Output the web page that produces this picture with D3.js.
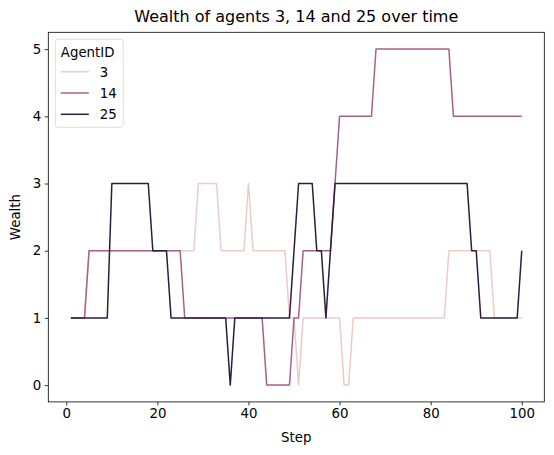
<!DOCTYPE html>
<head>
<meta charset="UTF-8">
<script src="https://d3js.org/d3.v7.min.js"></script>
<style>
  body { margin: 0; background: #fff; }
  text { font-family: "DejaVu Sans", sans-serif; fill: #000; }
</style>
</head>
<body>
<div id="my_dataviz"></div>
<script>

// wealth per step, steps 1..100
var steps = d3.range(1, 101);
var agentIds = ["3", "14", "25"];
var agentColors = ["#ebcdc6", "#a6628f", "#2d1e3e"];

var wealth3 = [
  1,1,1,1,2,2,2,2,2,2,
  2,2,2,2,2,2,2,2,2,2,
  2,2,2,2,2,2,2,2,3,3,
  3,3,3,2,2,2,2,2,2,3,
  2,2,2,2,2,2,2,2,1,1,
  0,1,1,1,1,1,1,1,1,1,
  0,0,1,1,1,1,1,1,1,1,
  1,1,1,1,1,1,1,1,1,1,
  1,1,1,2,2,2,2,2,2,2,
  2,2,2,1,1,1,1,1,1,1
];
var wealth14 = [
  1,1,1,1,2,2,2,2,2,2,
  2,2,2,2,2,2,2,2,2,2,
  2,2,2,2,2,1,1,1,1,1,
  1,1,1,1,1,1,1,1,1,1,
  1,1,1,0,0,0,0,0,0,1,
  1,2,2,2,2,2,2,2,3,4,
  4,4,4,4,4,4,4,5,5,5,
  5,5,5,5,5,5,5,5,5,5,
  5,5,5,5,4,4,4,4,4,4,
  4,4,4,4,4,4,4,4,4,4
];
var wealth25 = [
  1,1,1,1,1,1,1,1,1,3,
  3,3,3,3,3,3,3,3,2,2,
  2,2,1,1,1,1,1,1,1,1,
  1,1,1,1,1,0,1,1,1,1,
  1,1,1,1,1,1,1,1,1,2,
  3,3,3,3,2,2,1,2,3,3,
  3,3,3,3,3,3,3,3,3,3,
  3,3,3,3,3,3,3,3,3,3,
  3,3,3,3,3,3,3,3,2,2,
  1,1,1,1,1,1,1,1,1,2
];
var xTicks = [0, 20, 40, 60, 80, 100];
var yTicks = [0, 1, 2, 3, 4, 5];

var series = [wealth3, wealth14, wealth25];

// figure / axes box (matplotlib-like)
var W = 554, H = 455;
var margin = {top: 32.3, right: 9.7, bottom: 53.1, left: 48.3};
var width = W - margin.left - margin.right,
    height = H - margin.top - margin.bottom;

var svg = d3.select("#my_dataviz")
  .append("svg")
    .attr("width", W)
    .attr("height", H)
  .append("g")
    .attr("transform", "translate(" + margin.left + "," + margin.top + ")");

// 5% padding like matplotlib autoscale
var x = d3.scaleLinear()
  .domain([1 - 0.05 * 99, 100 + 0.05 * 99])
  .range([0, width]);
var y = d3.scaleLinear()
  .domain([-0.25, 5.25])
  .range([height, 0]);

// axes
var xAxis = svg.append("g")
  .attr("transform", "translate(0," + height + ")")
  .call(d3.axisBottom(x).tickValues(xTicks).tickFormat(d3.format("d")).tickSize(3.5).tickPadding(3.5));
var yAxis = svg.append("g")
  .call(d3.axisLeft(y).tickValues(yTicks).tickFormat(d3.format("d")).tickSize(3.5).tickPadding(3.5));
[xAxis, yAxis].forEach(function(a) {
  a.select(".domain").remove();
  a.selectAll("line").attr("stroke", "#000").attr("stroke-width", 0.8);
  a.selectAll("text")
    .style("font-family", "DejaVu Sans, sans-serif")
    .style("font-size", "13.33px")
    .attr("fill", "#000");
});

// frame
svg.append("rect")
  .attr("width", width)
  .attr("height", height)
  .attr("fill", "none")
  .attr("stroke", "#000")
  .attr("stroke-width", 0.8);

// lines
var line = d3.line()
  .x(function(d, i) { return x(steps[i]); })
  .y(function(d) { return y(d); });

svg.selectAll(".agent")
  .data(series)
  .enter()
  .append("path")
    .attr("class", "agent")
    .attr("d", line)
    .attr("fill", "none")
    .attr("stroke", function(d, i) { return agentColors[i]; })
    .attr("stroke-width", 1.5)
    .attr("stroke-linejoin", "round")
    .attr("stroke-linecap", "butt");

// title and labels
svg.append("text")
  .attr("x", width / 2)
  .attr("y", -10)
  .attr("text-anchor", "middle")
  .style("font-size", "16px")
  .text("Wealth of agents 3, 14 and 25 over time");

svg.append("text")
  .attr("x", width / 2)
  .attr("y", height + 40)
  .attr("text-anchor", "middle")
  .style("font-size", "13.33px")
  .text("Step");

svg.append("text")
  .attr("transform", "translate(" + (-28) + "," + (height / 2) + ") rotate(-90)")
  .attr("text-anchor", "middle")
  .style("font-size", "13.33px")
  .text("Wealth");

// legend
var legend = svg.append("g")
  .attr("transform", "translate(7, 7)");
legend.append("rect")
  .attr("width", 68)
  .attr("height", 88)
  .attr("rx", 3)
  .attr("fill", "#fff")
  .attr("fill-opacity", 0.8)
  .attr("stroke", "#d6d6d6")
  .attr("stroke-width", 0.8);
legend.append("text")
  .attr("x", 5.5)
  .attr("y", 17.5)
  .style("font-size", "13.33px")
  .text("AgentID");
var items = legend.selectAll(".item")
  .data(agentIds)
  .enter()
  .append("g")
    .attr("class", "item")
    .attr("transform", function(d, i) { return "translate(0," + (32.4 + i * 21.3) + ")"; });
items.append("line")
  .attr("x1", 5.5)
  .attr("x2", 33.5)
  .attr("stroke", function(d, i) { return agentColors[i]; })
  .attr("stroke-width", 1.5);
items.append("text")
  .attr("x", 44.5)
  .attr("y", 4.8)
  .style("font-size", "13.33px")
  .text(function(d) { return d; });

</script>
</body>
